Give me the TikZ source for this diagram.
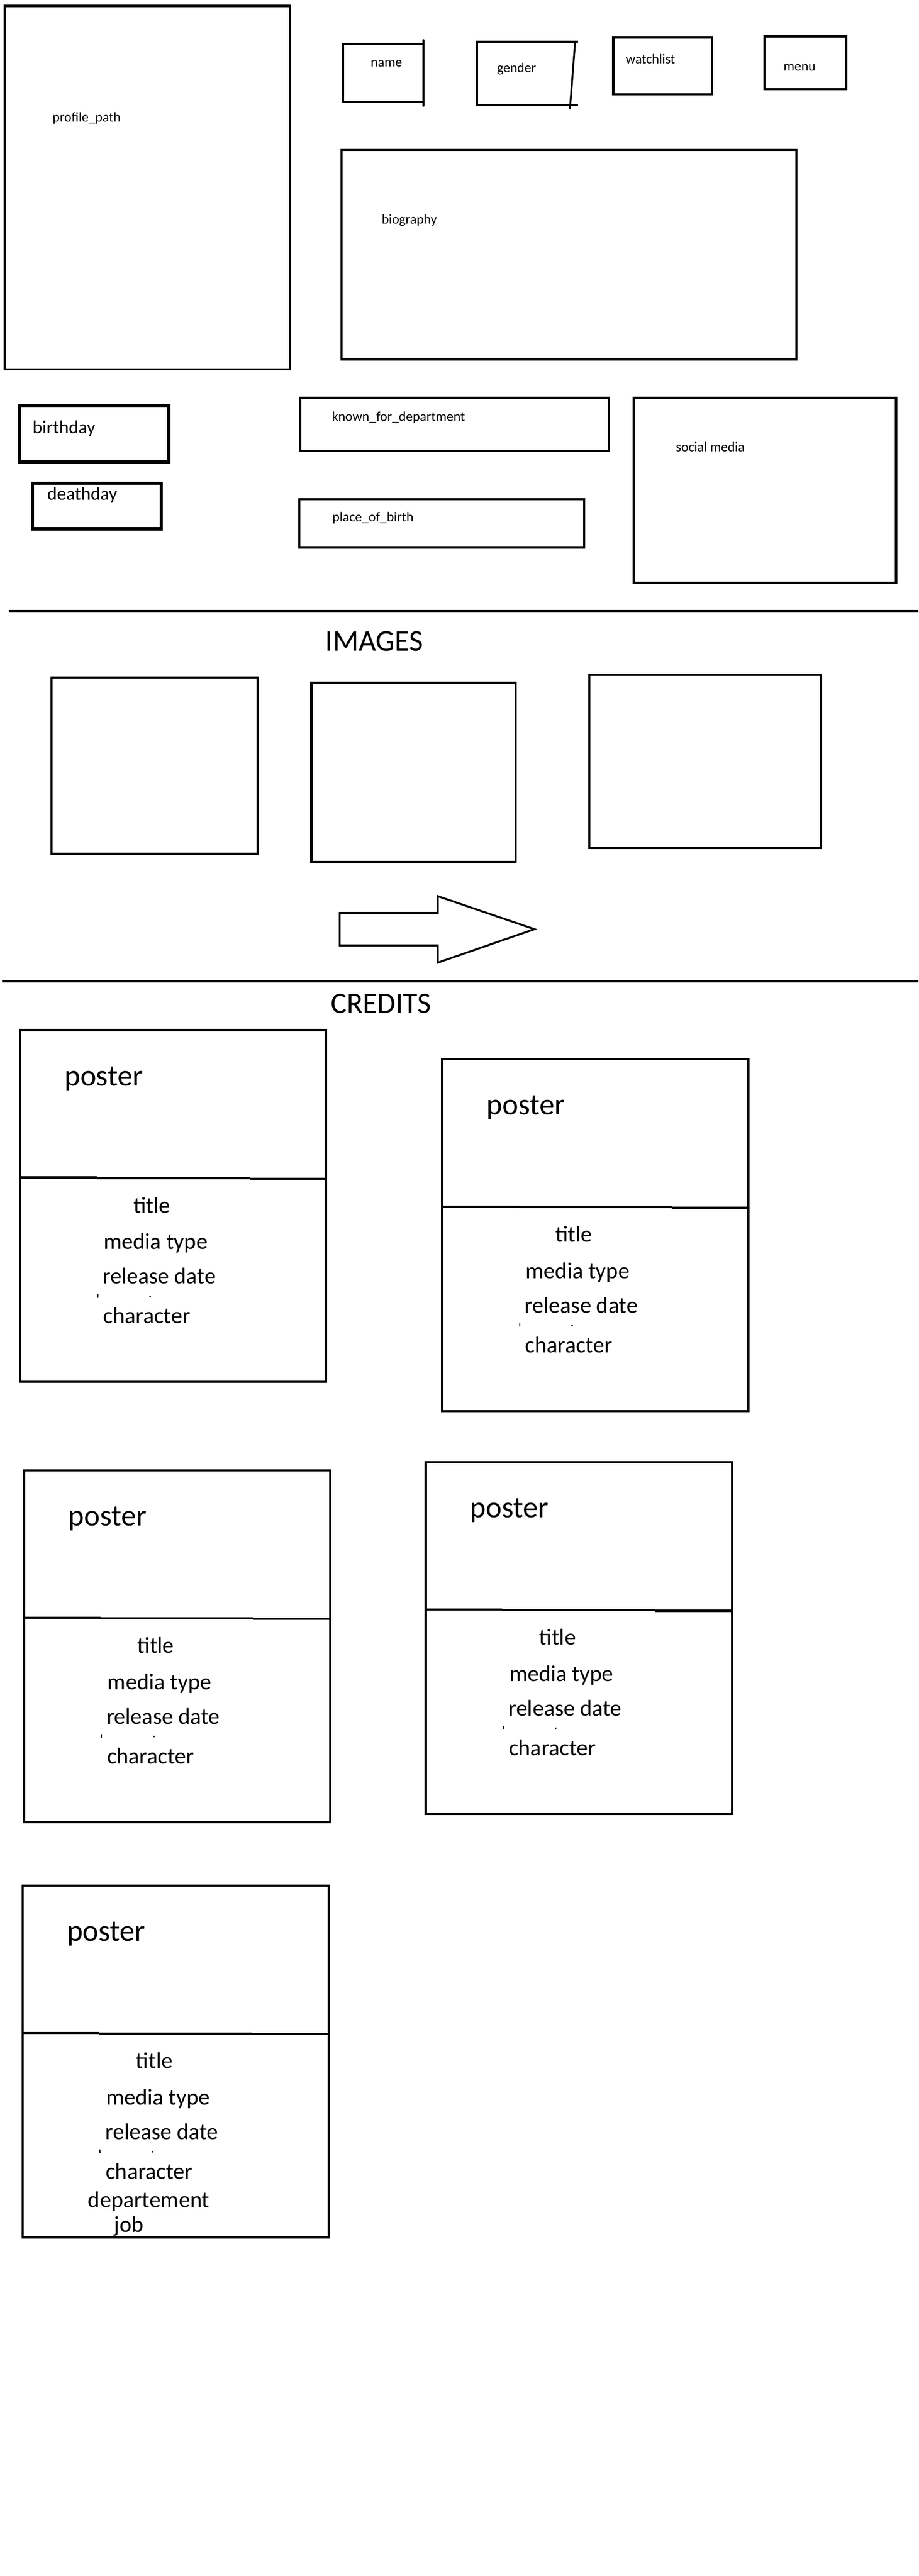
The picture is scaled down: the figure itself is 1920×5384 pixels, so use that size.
\documentclass[tikz,border=0pt]{standalone}
\usepackage{fontspec}
\setmainfont{Carlito}
\usetikzlibrary{fit}
\tikzset{
  ln/.style={line width=4.5pt, black},
  boxst/.style={draw=black, line width=4.5pt, inner sep=0pt, outer sep=0pt},
  thickbox/.style={boxst, line width=6.7pt},
  lbl/.style={inner sep=0pt, outer sep=0pt, anchor=base west, text=black, font=\fontsize{28.5}{34}\selectfont},
  lblm/.style={lbl, font=\fontsize{38.5}{46}\selectfont},
  ctext/.style={lbl, font=\fontsize{47.5}{57}\selectfont},
  bigtext/.style={lbl, font=\fontsize{63}{75}\selectfont},
}
\newcommand\mkbox[6][]{\node[boxst,#1,fit={(#3,#4) (#5,#6)}] (#2) {};}
\newcommand\mkcard[3]{%
  \node[boxst,fit={(#2,#3) (#2+640,#3+735)}] (#1) {};
  \draw[ln] (#2,#3+308) -- (#2+160,#3+308) (#2+160,#3+309) -- (#2+480,#3+309) (#2+480,#3+310.5) -- (#2+640,#3+310.5);
  \node[bigtext] (#1-poster) at (#2+93,#3+116) {poster};
  \node[ctext] (#1-title) at (#2+237,#3+382) {title};
  \node[ctext] (#1-media) at (#2+175,#3+458) {media type};
  \node[ctext] (#1-release) at (#2+173,#3+530) {release date};
  \fill[black] (#2+161,#3+551) rectangle (#2+163.5,#3+559);
  \fill[black] (#2+270.5,#3+555) rectangle (#2+273,#3+557.5);
  \node[ctext] (#1-character) at (#2+174,#3+613) {character};
}
\begin{document}
\begin{tikzpicture}[x=1pt,y=-1pt]
\fill[white] (0,0) rectangle (1920,5384);
\useasboundingbox (0,0) rectangle (1920,5384);

% ---------- header section ----------
\mkbox{profile}{9.8}{12.4}{606}{771.8}
\node[lbl] (profile-t) at (110,255) {profile\_path};

\node[boxst,fit={(717.5,91.4) (885,213.6)}] (namebox) {};
\draw[line width=4.3pt, line cap=round] (885,84) -- (885,221);
\node[lbl] (name-t) at (775,139) {name};

\draw[line width=4.3pt] (1208.6,87.1) -- (997,87.1) -- (997,219.6) -- (1208.6,219.6);
\draw[line width=3.8pt, line cap=round] (1202.1,87.9) -- (1191.4,227.1);
\coordinate (gender) at (1100,153);
\node[lbl] (gender-t) at (1039,151) {gender};

\mkbox{watchlist}{1282}{79}{1488}{197}
\node[lbl] (watchlist-t) at (1308,132.6) {watchlist};

\mkbox{menu}{1598}{76}{1769}{186}
\node[lbl] (menu-t) at (1638,147.6) {menu};

\mkbox{biography}{714}{313}{1665}{751}
\node[lbl] (biography-t) at (798,468) {biography};

\node[thickbox,fit={(40.6,847.3) (352.7,965.3)}] (birthday) {};
\node[lblm] (birthday-t) at (68.3,906) {birthday};

\node[thickbox,fit={(67.6,1010.3) (337.4,1105.3)}] (deathday) {};
\node[lblm] (deathday-t) at (99,1045) {deathday};

\mkbox{known}{628}{831}{1273}{942}
\node[lbl] (known-t) at (694,880) {known\_for\_department};

\mkbox{place}{626}{1043}{1221}{1144}
\node[lbl] (place-t) at (695,1090) {place\_of\_birth};

\mkbox{social}{1325}{831}{1873}{1218}
\node[lbl] (social-t) at (1413,944) {social media};

\draw[ln] (18,1277) -- (1920,1277);

% ---------- images section ----------
\node[bigtext] (images-t) at (680,1360) {IMAGES};
\mkbox{img1}{108}{1416}{538}{1784}
\mkbox{img2}{651}{1427}{1078}{1802}
\mkbox{img3}{1232}{1411}{1716}{1772}
\draw[line width=4pt, line join=miter] (710,1908) -- (915,1908) -- (915,1873) -- (1117,1942) -- (915,2012) -- (915,1976) -- (710,1976) -- cycle;

\draw[ln] (4,2051) -- (1920,2051);

% ---------- credits section ----------
\node[lbl, font=\fontsize{62}{74}\selectfont] (credits-t) at (692,2118) {CREDITS};

\mkcard{card1}{42}{2153}
\mkcard{card2}{924}{2214}
\mkcard{card3}{50}{3073}
\mkcard{card4}{890}{3056}
\mkcard{card5}{47}{3941}
\node[ctext] (card5-dep) at (47+137,3941+672) {departement};
\node[ctext] (card5-job) at (47+192,3941+724) {job};
\end{tikzpicture}
\end{document}
